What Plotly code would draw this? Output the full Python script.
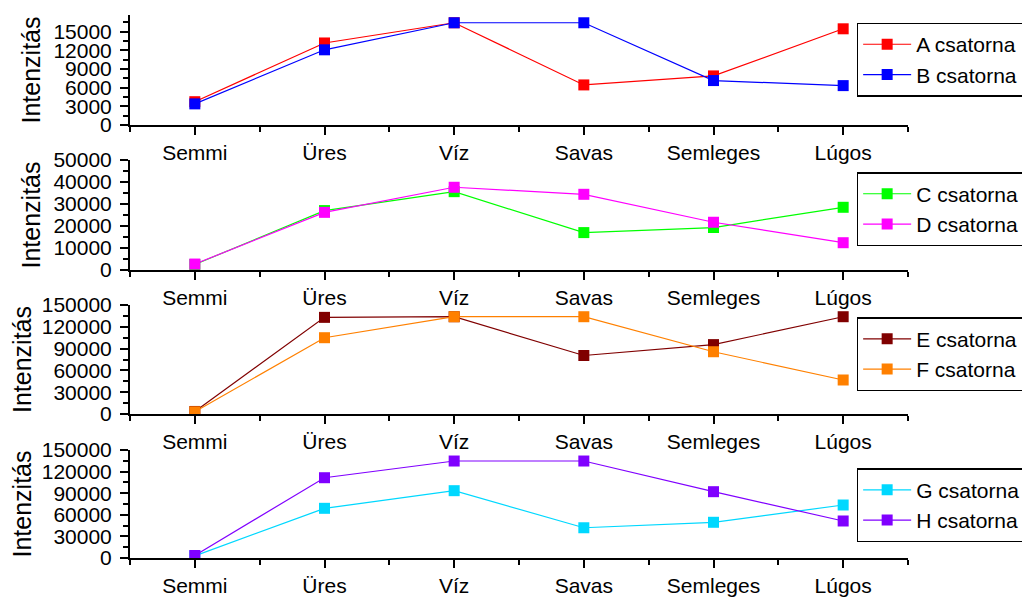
import plotly.graph_objects as go

categories = ["Semmi", "Üres", "Víz", "Savas", "Semleges", "Lúgos"]
x_pos = list(range(len(categories)))

a_vals = [3750, 13200, 16450, 6450, 7900, 15480]
b_vals = [3400, 12100, 16450, 16450, 7150, 6340]
c_vals = [2500, 27000, 35600, 17000, 19300, 28500]
d_vals = [2700, 26200, 37600, 34400, 21700, 12400]
e_vals = [3500, 133000, 133900, 80500, 95500, 133900]
f_vals = [3000, 105000, 133900, 133900, 85700, 46800]
g_vals = [3000, 69000, 93500, 42000, 49600, 73600]
h_vals = [3500, 111500, 134700, 134700, 92100, 51400]

series = [
    ("A csatorna", a_vals, "#FF0000", 1),
    ("B csatorna", b_vals, "#0000FF", 1),
    ("C csatorna", c_vals, "#00FF00", 2),
    ("D csatorna", d_vals, "#FF00FF", 2),
    ("E csatorna", e_vals, "#800000", 3),
    ("F csatorna", f_vals, "#FF8000", 3),
    ("G csatorna", g_vals, "#00D8FF", 4),
    ("H csatorna", h_vals, "#8000FF", 4),
]

y_ranges = {1: [0, 17700], 2: [0, 50000], 3: [0, 150000], 4: [0, 150000]}
y_dticks = {1: 3000, 2: 10000, 3: 30000, 4: 30000}
domains = {1: [0.7974, 1.0], 2: [0.5304, 0.7330], 3: [0.2652, 0.4659], 4: [0.0, 0.1989]}
legend_y = {1: 0.986, 2: 0.7107, 3: 0.4436, 4: 0.1655}

fig = go.Figure()
for name, vals, color, p in series:
    sfx = "" if p == 1 else str(p)
    fig.add_trace(go.Scatter(
        x=x_pos, y=vals, name=name, mode="lines+markers",
        line=dict(color=color, width=1.2),
        marker=dict(symbol="square", size=11, color=color),
        xaxis="x" + sfx, yaxis="y" + sfx,
        legend="legend" + sfx,
    ))

font_family = "Liberation Sans, Arial, sans-serif"
layout = dict(
    width=1022, height=589,
    margin=dict(l=122, r=122, t=7, b=39, autoexpand=False),
    paper_bgcolor="white", plot_bgcolor="white",
    font=dict(family=font_family, color="black", size=21),
)
for p in range(1, 5):
    sfx = "" if p == 1 else str(p)
    layout["xaxis" + sfx] = dict(
        domain=[0, 1], anchor="y" + sfx, automargin=False,
        range=[-0.5, 5.5], tickmode="array", tickvals=x_pos, ticktext=categories,
        showline=True, linecolor="black", linewidth=2,
        ticks="outside", ticklen=8, tickwidth=1.5, tickcolor="black",
        minor=dict(ticks="outside", dtick=0.5, tick0=-0.5, ticklen=5, tickwidth=1.5, tickcolor="black"),
        showgrid=False, zeroline=False, ticklabelstandoff=0,
        tickfont=dict(size=21),
    )
    layout["yaxis" + sfx] = dict(
        domain=domains[p], anchor="x" + sfx, automargin=False,
        range=y_ranges[p], dtick=y_dticks[p], tick0=0,
        tickformat="d", exponentformat="none",
        showline=True, linecolor="black", linewidth=2,
        ticks="outside", ticklen=8, tickwidth=1.5, tickcolor="black",
        minor=dict(ticks="outside", dtick=y_dticks[p] / 2, ticklen=5, tickwidth=1.5, tickcolor="black"),
        showgrid=False, zeroline=False, ticklabelstandoff=4,
        tickfont=dict(size=21),
        title=dict(text="Intenzitás", font=dict(size=25), standoff=6),
    )
    layout["legend" + sfx] = dict(
        x=0.934, xanchor="left", y=legend_y[p], yanchor="top",
        bordercolor="black", borderwidth=1.5, bgcolor="white",
        font=dict(size=21), itemwidth=48, tracegroupgap=0,
    )

fig.update_layout(**layout)
fig.write_html("out.html")
